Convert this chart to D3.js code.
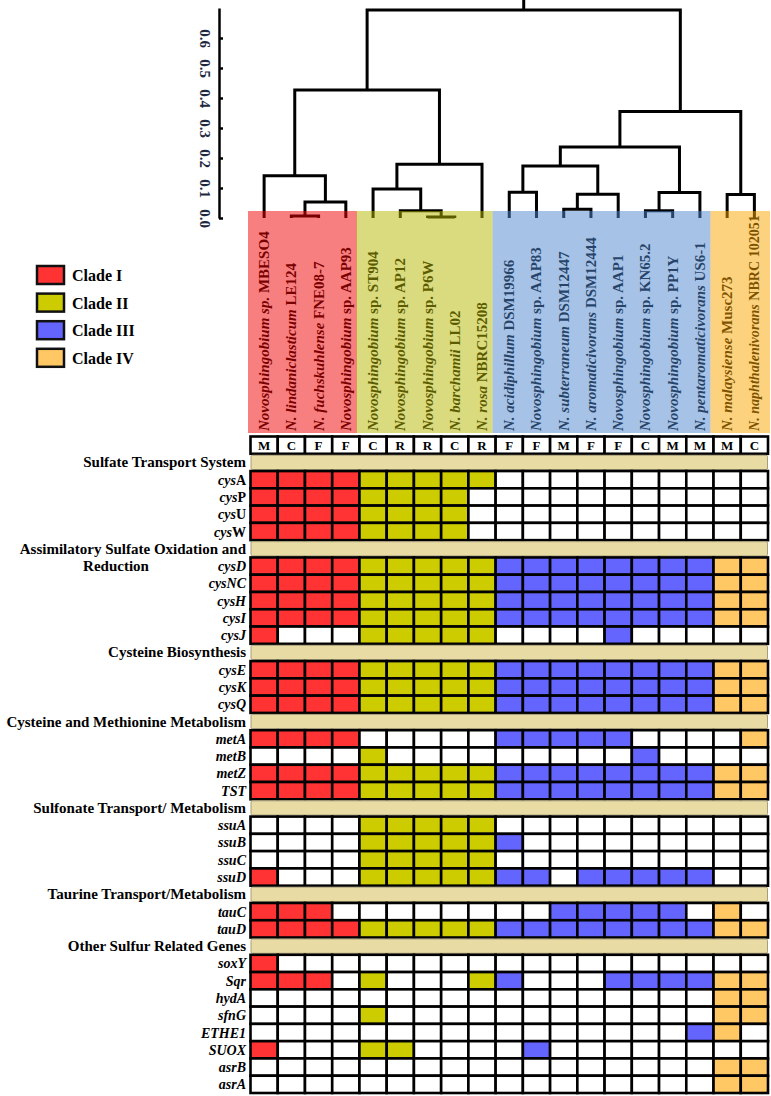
<!DOCTYPE html>
<html>
<head>
<meta charset="utf-8">
<script src="https://cdn.jsdelivr.net/npm/d3@7"></script>
<style>
    body { margin: 0; background: #fff; }
    svg { display: block; font-family: "Liberation Serif", "Times New Roman", serif; }
</style>
</head>
<body>
<div id="chart"></div>
<script>
// species (italic part, upright part) in dendrogram order
const species = [
    ["Novosphingobium sp.", " MBESO4"],
    ["N. lindaniclasticum", " LE124"],
    ["N. fuchskuhlense", " FNE08-7"],
    ["Novosphingobium", " sp. AAP93"],
    ["Novosphingobium", " sp. ST904"],
    ["Novosphingobium", " sp. AP12"],
    ["Novosphingobium", " sp. P6W"],
    ["N. barchamii", " LL02"],
    ["N. rosa", " NBRC15208"],
    ["N. acidiphillum", " DSM19966"],
    ["Novosphingobium", " sp. AAP83"],
    ["N. subterraneum", " DSM12447"],
    ["N. aromaticivorans", " DSM12444"],
    ["Novosphingobium", " sp. AAP1"],
    ["Novosphingobium", " sp. KN65.2"],
    ["Novosphingobium", " sp. PP1Y"],
    ["N. pentaromaticivorans", " US6-1"],
    ["N. malaysiense", " Musc273"],
    ["N. naphthalenivorans", " NBRC 102051"]
];
const habitat = ["M", "C", "F", "F", "C", "R", "R", "C", "R", "F", "F", "M", "F", "F", "C", "M", "M", "M", "C"];
const clade = [0, 0, 0, 0, 1, 1, 1, 1, 1, 2, 2, 2, 2, 2, 2, 2, 2, 3, 3];
const cladeNames = ["Clade I", "Clade II", "Clade III", "Clade IV"];

// dendrogram merges: [child a, child b, height]; leaves 0-18, merge k gets id 19+k
const merges = [
    [1, 2, 0.007],
    [19, 3, 0.053],
    [0, 20, 0.141],
    [6, 7, 0.003],
    [5, 22, 0.024],
    [4, 23, 0.097],
    [24, 8, 0.179],
    [21, 25, 0.427],
    [9, 10, 0.086],
    [11, 12, 0.029],
    [28, 13, 0.079],
    [27, 29, 0.173],
    [14, 15, 0.024],
    [31, 16, 0.085],
    [30, 32, 0.237],
    [17, 18, 0.078],
    [33, 34, 0.355],
    [26, 35, 0.693]
];
const heightTicks = [0, 0.1, 0.2, 0.3, 0.4, 0.5, 0.6];

const sectionTitles = [
    "Sulfate Transport System",
    "Assimilatory Sulfate Oxidation and",
    "Cysteine Biosynthesis",
    "Cysteine and Methionine Metabolism",
    "Sulfonate Transport/ Metabolism",
    "Taurine Transport/Metabolism",
    "Other Sulfur Related Genes"
];
const sectionSecondLine = ["", "Reduction", "", "", "", "", ""];

// gene names (italic part, upright part)
const genes = [
    ["cys", "A"], ["cys", "P"], ["cys", "U"], ["cys", "W"],
    ["cysD", ""], ["cysNC", ""], ["cysH", ""], ["cysI", ""], ["cysJ", ""],
    ["cysE", ""], ["cysK", ""], ["cysQ", ""],
    ["metA", ""], ["metB", ""], ["metZ", ""], ["TST", ""],
    ["ssuA", ""], ["ssuB", ""], ["ssuC", ""], ["ssuD", ""],
    ["tauC", ""], ["tauD", ""],
    ["soxY", ""], ["Sqr", ""], ["hydA", ""], ["sfnG", ""], ["ETHE1", ""], ["SUOX", ""], ["asrB", ""], ["asrA", ""]
];
const geneSection = [0, 0, 0, 0, 1, 1, 1, 1, 1, 2, 2, 2, 3, 3, 3, 3, 4, 4, 4, 4, 5, 5, 6, 6, 6, 6, 6, 6, 6, 6];

// gene present (1) / absent (0) per species
const presence = [
    "1111111110000000000",
    "1111111100000000000",
    "1111111100000000000",
    "1111111100000000000",
    "1111111111111111111",
    "1111111111111111111",
    "1111111111111111111",
    "1111111111111111111",
    "1000111110000100000",
    "1111111111111111111",
    "1111111111111111111",
    "1111111111111111111",
    "1111000001111100001",
    "0000100000000010000",
    "1111111111111111111",
    "1111111111111111111",
    "0000111110000000000",
    "0000111111000000000",
    "0000111110000000000",
    "1000111111101111100",
    "1110000000011111010",
    "1111111111111111111",
    "1000000000000000000",
    "1110100011000111111",
    "0000000000000000011",
    "0000100000000000011",
    "0000000000000000110",
    "1000110000100000000",
    "0000000000000000011",
    "0000000000000000011"
];

const cellColors = ["#ff3333", "#cccc00", "#6464ff", "#ffc864"];
const overlayColors = ["#f00000", "#b5b500", "#4d85cd", "#fba500"];

const W = 771, H = 1096;
const svg = d3.select("#chart").append("svg")
    .attr("width", W)
    .attr("height", H);

const x = d3.scaleBand()
    .domain(d3.range(species.length))
    .range([250.5, 768]);
const xc = i => x(i) + x.bandwidth() / 2;

// rows: habitat letters, then each section band followed by its genes
const rows = [{ type: "habitat" }];
sectionTitles.forEach((t, s) => {
    rows.push({ type: "band", s: s });
    genes.forEach((g, i) => {
        if (geneSection[i] === s) rows.push({ type: "gene", i: i, s: s });
    });
});

const y = d3.scaleBand()
    .domain(d3.range(rows.length))
    .range([436.5, 1093]);
const yc = r => y(r) + y.bandwidth() / 2;

//dendrogram
const yD = d3.scaleLinear().domain([0, 0.7]).range([218, 8]);
const nx = species.map((d, i) => xc(i));
const nh = species.map(() => 0);
merges.forEach(([a, b, h]) => {
    nx.push((nx[a] + nx[b]) / 2);
    nh.push(h);
});

const tree = svg.append("g")
    .attr("fill", "none")
    .attr("stroke", "#000")
    .attr("stroke-width", 3);

tree.selectAll("path.link")
    .data(merges)
    .enter()
    .append("path")
    .attr("class", "link")
    .attr("d", ([a, b, h]) => `M${nx[a]},${yD(nh[a])}V${yD(h)}H${nx[b]}V${yD(nh[b])}`);

const root = nx.length - 1;
tree.append("path")
    .attr("d", `M${nx[root]},${yD(nh[root])}V0`);

const yAxis = d3.axisLeft(yD)
    .tickValues(heightTicks)
    .tickFormat(d3.format(".1f"))
    .tickSize(-4)
    .tickSizeOuter(0);

const axisG = svg.append("g")
    .attr("transform", "translate(219,0)")
    .call(yAxis);
axisG.select(".domain").attr("stroke-width", 2.5);
axisG.selectAll(".tick line").attr("stroke-width", 2.5);
axisG.selectAll(".tick text")
    .attr("x", null)
    .attr("dy", null)
    .attr("text-anchor", "middle")
    .attr("transform", "translate(-19,0) rotate(90)")
    .attr("fill", "#1c2840")
    .style("font-family", "'Liberation Serif', serif")
    .style("font-weight", "bold")
    .style("font-size", "15px");

// species labels
const labels = svg.append("g")
    .style("font-size", "15px")
    .style("font-weight", "bold");

labels.selectAll("text")
    .data(species)
    .enter()
    .append("text")
    .attr("transform", (d, i) => `translate(${xc(i) + 5},431) rotate(-90)`)
    .attr("fill", "#000")
    .each(function (d) {
        const t = d3.select(this);
        t.append("tspan").style("font-style", "italic").text(d[0]);
        t.append("tspan").text(d[1]);
        // keep long names inside the coloured block
        const len = this.getComputedTextLength();
        if (len > 216) t.style("font-size", (15 * 216 / len).toFixed(2) + "px");
    });

// clade colour blocks laid over tree tips and labels
const cladeSpans = cladeNames.map((c, k) => {
    const cols = d3.range(species.length).filter(i => clade[i] === k);
    return { k: k, x0: x(cols[0]), x1: x(cols[cols.length - 1]) + x.bandwidth() };
});
svg.append("g")
    .selectAll("rect")
    .data(cladeSpans)
    .enter()
    .append("rect")
    .attr("x", d => d.k === 0 ? d.x0 - 2.5 : d.x0 - 3)
    .attr("width", d => d.k === 3 ? d.x1 - d.x0 + 5 : d.x1 - d.x0)
    .attr("y", 211)
    .attr("height", 222)
    .attr("fill", d => overlayColors[d.k])
    .attr("fill-opacity", 0.5);

// legend
const legend = svg.append("g")
    .selectAll("g")
    .data(cladeNames)
    .enter()
    .append("g")
    .attr("transform", (d, i) => `translate(37,${266 + i * 27.6})`);

legend.append("rect")
    .attr("width", 27)
    .attr("height", 18)
    .attr("fill", (d, i) => cellColors[i])
    .attr("stroke", "#111")
    .attr("stroke-width", 2.5);

legend.append("text")
    .attr("x", 35)
    .attr("y", 15)
    .style("font-size", "16px")
    .style("font-weight", "bold")
    .text(d => d);

// heat map
const grid = svg.append("g");

rows.forEach((row, r) => {
    if (row.type === "band") {
        grid.append("rect")
            .attr("x", 251)
            .attr("y", y(r) + 1.5)
            .attr("width", 516.5)
            .attr("height", y.bandwidth() - 3)
            .attr("rx", 1.5)
            .attr("fill", "#e8dba3")
            .attr("stroke", "#a69d7a")
            .attr("stroke-width", 1);

        grid.append("text")
            .attr("x", 246)
            .attr("y", yc(r) + 5)
            .attr("text-anchor", "end")
            .style("font-size", "15px")
            .style("font-weight", "bold")
            .text(sectionTitles[row.s]);
        return;
    }

    grid.selectAll(null)
        .data(species)
        .enter()
        .append("rect")
        .attr("x", (d, i) => x(i))
        .attr("y", y(r))
        .attr("width", x.bandwidth())
        .attr("height", y.bandwidth())
        .attr("fill", (d, i) => {
            if (row.type === "habitat") return "#fff";
            return presence[row.i][i] === "1" ? cellColors[clade[i]] : "#fff";
        })
        .attr("stroke", "#000")
        .attr("stroke-width", 2.6);

    if (row.type === "habitat") {
        grid.selectAll(null)
            .data(habitat)
            .enter()
            .append("text")
            .attr("x", (d, i) => xc(i))
            .attr("y", yc(r) + 4.5)
            .attr("text-anchor", "middle")
            .style("font-size", "13px")
            .style("font-weight", "bold")
            .text(d => d);
        return;
    }

    const g = genes[row.i];
    const label = grid.append("text")
        .attr("x", 246)
        .attr("y", yc(r) + 5)
        .attr("text-anchor", "end")
        .style("font-size", "14px")
        .style("font-weight", "bold");
    label.append("tspan").style("font-style", "italic").text(g[0]);
    if (g[1]) label.append("tspan").text(g[1]);

    // second line of a wrapped section title sits on the first gene row
    const first = genes.findIndex((d, i) => geneSection[i] === row.s);
    if (first === row.i && sectionSecondLine[row.s]) {
        grid.append("text")
            .attr("x", 116)
            .attr("y", yc(r) + 5)
            .attr("text-anchor", "middle")
            .style("font-size", "15px")
            .style("font-weight", "bold")
            .text(sectionSecondLine[row.s]);
    }
});
</script>
</body>
</html>
